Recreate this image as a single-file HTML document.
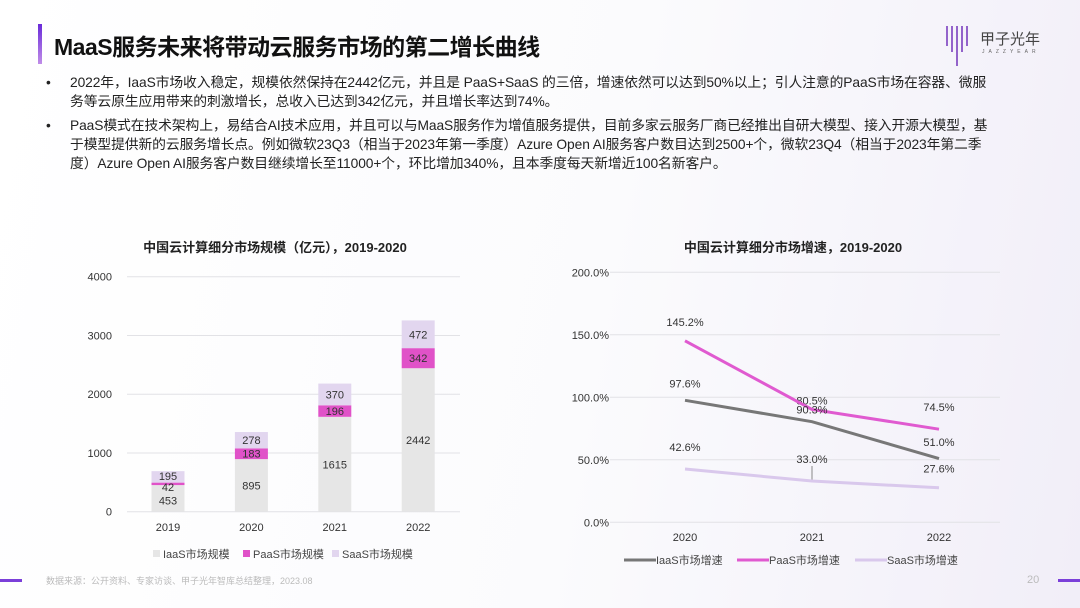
<!DOCTYPE html>
<html><head><meta charset="utf-8"><style>
body{margin:0;width:1080px;height:608px;overflow:hidden;font-family:"Liberation Sans","Noto Sans CJK SC",sans-serif;background:linear-gradient(100deg,#ffffff 0%,#fbfbfd 55%,#f1eef8 100%);position:relative}
.abs{position:absolute}
</style></head><body>
<div class="abs" style="left:38px;top:24px;width:4px;height:40px;background:linear-gradient(#6a2bd9,#c08de8)"></div>
<div class="abs" style="left:54px;top:28px;font-size:23px;font-weight:bold;color:#111;letter-spacing:-0.5px">MaaS服务未来将带动云服务市场的第二增长曲线</div>
<div class="abs" style="left:944px;top:22px;width:100px;height:40px">
<svg width="30" height="44" style="position:absolute;left:0;top:0"><g stroke="#7b3fbf" stroke-width="1.6"><line x1="3" y1="4" x2="3" y2="24"/><line x1="8" y1="4" x2="8" y2="30"/><line x1="13" y1="4" x2="13" y2="44"/><line x1="18" y1="4" x2="18" y2="30"/><line x1="23" y1="4" x2="23" y2="24"/></g></svg>
<div style="position:absolute;left:36px;top:6px;font-size:15px;color:#444">甲子光年</div>
<div style="position:absolute;left:38px;top:27px;font-size:5px;color:#666;letter-spacing:4px">JAZZYEAR</div>
</div>
<div class="abs" style="left:46px;top:73px;width:946px;font-size:13.8px;line-height:19px;color:#222;letter-spacing:-0.1px">
<div style="position:relative;padding-left:24px;margin-bottom:5px"><span style="position:absolute;left:0">•</span>2022年，IaaS市场收入稳定，规模依然保持在2442亿元，并且是 PaaS+SaaS 的三倍，增速依然可以达到50%以上；引人注意的PaaS市场在容器、微服务等云原生应用带来的刺激增长，总收入已达到342亿元，并且增长率达到74%。</div>
<div style="position:relative;padding-left:24px"><span style="position:absolute;left:0">•</span>PaaS模式在技术架构上，易结合AI技术应用，并且可以与MaaS服务作为增值服务提供，目前多家云服务厂商已经推出自研大模型、接入开源大模型，基于模型提供新的云服务增长点。例如微软23Q3（相当于2023年第一季度）Azure Open AI服务客户数目达到2500+个，微软23Q4（相当于2023年第二季度）Azure Open AI服务客户数目继续增长至11000+个，环比增加340%，且本季度每天新增近100名新客户。</div>
</div>
<svg id="c" class="abs" style="left:0;top:0" width="1080" height="608" font-family="Liberation Sans,Noto Sans CJK SC,sans-serif"></svg>
<div class="abs" style="left:0;top:579px;width:22px;height:3px;background:#7b3fd9"></div>
<div class="abs" style="left:46px;top:574px;font-size:9px;color:#bbb">数据来源：公开资料、专家访谈、甲子光年智库总结整理，2023.08</div>
<div class="abs" style="left:1027px;top:574px;font-size:11px;color:#bbb">20</div>
<div class="abs" style="left:1058px;top:579px;width:22px;height:3px;background:#7b3fd9"></div>
<script>
const years1=['2019','2020','2021','2022'];
const iaas=[453,895,1615,2442];
const paas=[42,183,196,342];
const saas=[195,278,370,472];
const yTicks1=[0,1000,2000,3000,4000];
const years2=['2020','2021','2022'];
const iaasG=[97.6,80.5,51.0];
const paasG=[145.2,90.3,74.5];
const saasG=[42.6,33.0,27.6];
const yTicks2=[0,50,100,150,200];
const iaasL=['97.6%','80.5%','51.0%'];
const paasL=['145.2%','90.3%','74.5%'];
const saasL=['42.6%','33.0%','27.6%'];
const svg=document.getElementById('c');const NS='http://www.w3.org/2000/svg';
function mk(t,a,txt){const e=document.createElementNS(NS,t);for(const k in a)e.setAttribute(k,a[k]);if(txt!==undefined)e.textContent=txt;svg.appendChild(e);return e;}
const y1=v=>511.7-v*(235/4000);const x1=i=>168+i*83.4;
let e=mk('text',{x:275,y:252,'text-anchor':'middle','font-size':13,'font-weight':'bold',fill:'#222'},'中国云计算细分市场规模（亿元），2019-2020');

yTicks1.forEach(t=>{e=mk('line',{x1:127,x2:460,y1:y1(t),y2:y1(t),stroke:'#e2e2e6'});
e=mk('text',{x:112,y:y1(t)+4,'text-anchor':'end','font-size':11,fill:'#333'},String(t));});
years1.forEach((yr,i)=>{const w=33,x=x1(i)-w/2;let b=0;
[[iaas,'#e6e6e6'],[paas,'#e052c8'],[saas,'#e2d6ef']].forEach(([arr,c],k)=>{const v=arr[i];
e=mk('rect',{x:x,y:y1(b+v),width:w,height:y1(b)-y1(b+v),fill:c});
let ty=(y1(b)+y1(b+v))/2+4;if(i==0&&k==0)ty+=2;if(i==0&&k==1)ty+=3;if(i==0&&k==2)ty-=1;
e=mk('text',{x:x1(i),y:ty,'text-anchor':'middle','font-size':11,fill:'#333'},String(v));
b+=v;});
e=mk('text',{x:x1(i),y:531,'text-anchor':'middle','font-size':11,fill:'#333'},yr);});
[['IaaS市场规模','#e6e6e6',153],['PaaS市场规模','#e052c8',243],['SaaS市场规模','#e2d6ef',332]].forEach(([t,c,x])=>{
e=mk('rect',{x:x,y:550,width:7,height:7,fill:c});
e=mk('text',{x:x+10,y:558,'font-size':11,fill:'#444'},t);});
const y2=v=>522.3-v*1.25;const x2=i=>685+i*127;
e=mk('text',{x:793,y:252,'text-anchor':'middle','font-size':13,'font-weight':'bold',fill:'#222'},'中国云计算细分市场增速，2019-2020');

yTicks2.forEach(t=>{e=mk('line',{x1:610,x2:1000,y1:y2(t),y2:y2(t),stroke:'#e2e2e6'});
e=mk('text',{x:609,y:y2(t)+4,'text-anchor':'end','font-size':11,fill:'#333'},t.toFixed(1)+'%');});
e=mk('line',{x1:x2(1),x2:x2(1),y1:y2(saasG[1])-15,y2:y2(saasG[1]),stroke:'#888'});
function path(arr){let d='';arr.forEach((v,i)=>{d+=(i?'L':'M')+x2(i)+','+y2(v);});return d;}
// label y offsets relative to each point (label placement, not data)
const offs={saas:[-18,-18,-17],iaas:[-13,-17,-16],paas:[-15,4,-18]};
[[saasG,'#d9c8ec',saasL,'saas'],[iaasG,'#777',iaasL,'iaas'],[paasG,'#e05ad0',paasL,'paas']].forEach(([arr,c,lab,n])=>{
e=mk('path',{d:path(arr),fill:'none',stroke:c,'stroke-width':3});
arr.forEach((v,i)=>{let yy=y2(v)+offs[n][i];
if(n=='iaas'&&i==2)yy=y2(arr[2])-20+0; 
if(n=='iaas'&&i==2)yy=y2(paasG[2])+17;
if(n=='saas'&&i==2)yy=y2(iaasG[2])+14;
e=mk('text',{x:x2(i),y:yy,'text-anchor':'middle','font-size':11,fill:'#333'},lab[i]);});});
years2.forEach((yr,i)=>{e=mk('text',{x:x2(i),y:541,'text-anchor':'middle','font-size':11,fill:'#333'},yr);});
[['IaaS市场增速','#777',624],['PaaS市场增速','#e05ad0',737],['SaaS市场增速','#d9c8ec',855]].forEach(([t,c,x])=>{
e=mk('line',{x1:x,x2:x+32,y1:560,y2:560,stroke:c,'stroke-width':3});
e=mk('text',{x:x+32,y:564,'font-size':11,fill:'#444'},t);});
</script>
</body></html>
